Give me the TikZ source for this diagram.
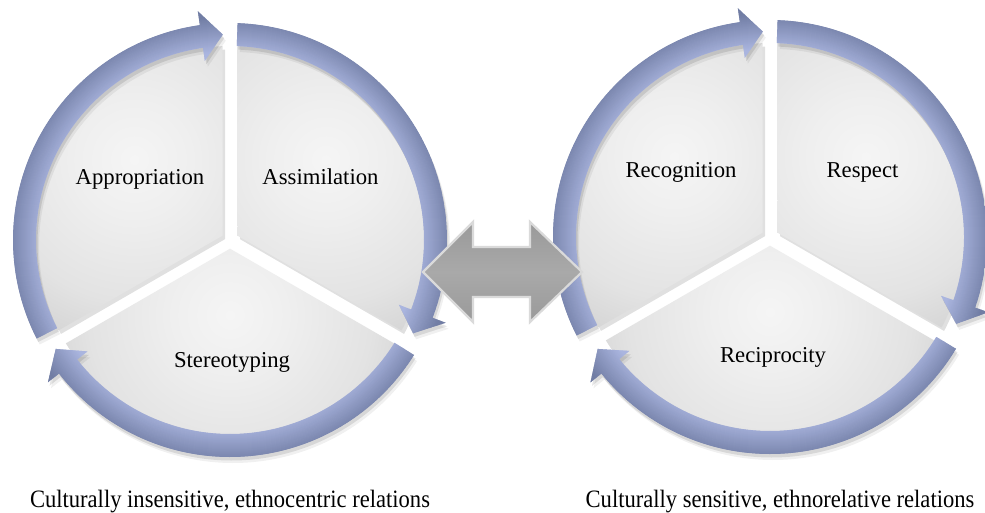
\documentclass[tikz,border=0pt]{standalone}
\usepackage{fontspec}
\setmainfont{Liberation Serif}
\definecolor{wA}{HTML}{F5F5F5}
\definecolor{wAA}{HTML}{EFEFEF}
\definecolor{wB}{HTML}{E3E3E3}
\definecolor{wC}{HTML}{CFCFCF}
\definecolor{wD}{HTML}{B9B9B9}
\definecolor{rA}{HTML}{AAB5DF}
\definecolor{rE}{HTML}{717DA4}
\definecolor{gA}{HTML}{8A8A8A}
\definecolor{gB}{HTML}{A9A9A9}
\definecolor{gEdge}{HTML}{DADADA}
\pgfdeclareradialshading{wedgesh}{\pgfpointorigin}{color(0bp)=(wA); color(7.1bp)=(wAA); color(17.7bp)=(wB); color(26.5bp)=(wC); color(40.7bp)=(wD); color(50bp)=(wD)}
\pgfdeclareverticalshading{dblsh}{100bp}{color(0bp)=(gA); color(50bp)=(gB); color(100bp)=(gA)}
% paths relative to the circle centre (current origin)
\newcommand\wedgepath[2]{({(#1+#2)/2}:8.66) -- ({#1+2.2}:194) arc[start angle={#1+2.2}, end angle={#2-2.2}, radius=194] -- cycle}
\newcommand\arrowpath[2]{(#1:217) arc[start angle=#1, end angle={#2+6}, radius=217] -- ({#2+6}:231) -- (#2:205.5) -- ({#2+6}:181) -- ({#2+6}:194) arc[start angle={#2+6}, end angle=#1, radius=194] -- cycle}
\newcommand\drawwedge[4]{%
  \begin{scope}[shift={(2.5,-3.5)}]\fill[black, opacity=0.12] \wedgepath{#1}{#2};\end{scope}
  \begin{scope}
    \clip \wedgepath{#1}{#2};
    \shade[shading=wedgesh] (#3:#4) circle (200);
  \end{scope}}
\newcommand\ringarrow[2]{%
  \begin{scope}[shift={(1.5,-3.5)}]\fill[black, opacity=0.10] \arrowpath{#1}{#2};\end{scope}
  \begin{scope}[shift={(3,-6)}]\fill[black, opacity=0.06] \arrowpath{#1}{#2};\end{scope}
  \begin{scope}
    \clip \arrowpath{#1}{#2};
    \foreach \rr in {180,...,232}{%
      \pgfmathtruncatemacro\tt{max(0,min(100,(\rr-188)*100/36))}%
      \draw[line width=1.5pt, color=rE!\tt!rA] (0,0) circle (\rr);
    }
  \end{scope}}
\tikzset{
  lbl/.style={font=\fontsize{22.7}{26}\selectfont, anchor=base, inner sep=0pt},
  captxt/.style={font=\fontsize{25}{28}\selectfont, anchor=base, inner sep=0pt, xscale=0.903},
  dblarrow/.style={shading=dblsh, draw=gEdge, line width=2.2pt, line join=miter}
}
\begin{document}
\begin{tikzpicture}[x=1pt, y=1pt]
\useasboundingbox (0,0) rectangle (985,512);
\fill[white] (0,0) rectangle (985,512);
% left cycle
\begin{scope}[shift={(230,272)}]
  \drawwedge{90}{210}{140}{125}
  \drawwedge{-30}{90}{40}{125}
  \drawwedge{210}{330}{270}{75}
  \ringarrow{207}{92}
  \ringarrow{88}{-27}
  \ringarrow{-32}{-148}
\end{scope}
% right cycle
\begin{scope}[shift={(770,275)}]
  \drawwedge{90}{210}{140}{125}
  \drawwedge{-30}{90}{40}{125}
  \drawwedge{210}{330}{270}{75}
  \ringarrow{207}{92}
  \ringarrow{88}{-25}
  \ringarrow{-31}{-147}
\end{scope}
% double arrow
\shade[dblarrow] (423,240) -- (473,290) -- (473,265) -- (530,265) -- (530,290) -- (582,240)
  -- (530,190) -- (530,215) -- (473,215) -- (473,190) -- cycle;
% labels
\node[lbl] (apr) at (140,327) {Appropriation};
\node[lbl] (asm) at (320.5,327) {Assimilation};
\node[lbl] (ste) at (232,145) {Stereotyping};
\node[lbl] (rec) at (681,334) {Recognition};
\node[lbl] (res) at (862.5,334) {Respect};
\node[lbl] (rcp) at (773,150) {Reciprocity};
\node[captxt] (capL) at (230,5) {Culturally insensitive, ethnocentric relations};
\node[captxt] (capR) at (780,5) {Culturally sensitive, ethnorelative relations};
\end{tikzpicture}
\end{document}
